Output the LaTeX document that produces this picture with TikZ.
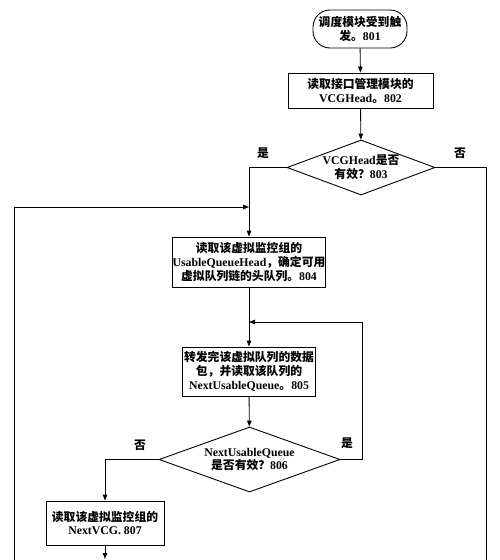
\documentclass[tikz,border=0pt]{standalone}
\usepackage{fontspec}
\setmainfont{Liberation Serif}
\newfontfamily\cjk{Noto Sans CJK SC}
\usetikzlibrary{shapes.geometric,arrows.meta}
\newcommand\zh[1]{{\cjk #1}}
\begin{document}
\begin{tikzpicture}[x=1pt,y=-1pt,
  every node/.style={font=\bfseries\fontsize{11.8}{13.8}\selectfont},
  proc/.style={draw, line width=0.9pt, rectangle, align=center, inner sep=0pt},
  term/.style={proc, rounded corners=17pt},
  dec/.style={draw, line width=0.9pt, diamond, inner sep=0pt, align=center},
  arr/.style={-{Triangle[length=6pt,width=4.5pt]}, line width=0.9pt},
  plain/.style={line width=0.9pt},
  lab/.style={inner sep=0pt}]
\useasboundingbox (0,0) rectangle (500,560);
\node[term, minimum width=94pt, minimum height=38pt] (s) at (360,29) {\zh{调度模块受到触}\\\zh{发。}801};
\node[proc, minimum width=145pt, minimum height=35pt] (n802) at (360.5,90.5) {\zh{读取接口管理模块的}\\VCGHead\zh{。}802};
\node[dec, aspect=2.7, minimum width=148pt, minimum height=55pt] (n803) at (361,167.5) {VCGHead\zh{是否}\\\zh{有效？}803};
\node[proc, minimum width=153pt, minimum height=50pt] (n804) at (249,262) {\zh{读取该虚拟监控组的}\\UsableQueueHead\zh{，确定可用}\\\zh{虚拟队列链的头队列。}804};
\node[proc, minimum width=133pt, minimum height=49pt] (n805) at (249,371.5) {\zh{转发完该虚拟队列的数据}\\\zh{包，并读取该队列的}\\NextUsableQueue\zh{。}805};
\node[dec, aspect=2.8, minimum width=181pt, minimum height=65pt] (n806) at (249.5,459.5) {NextUsableQueue\\\zh{是否有效？}806};
\node[proc, minimum width=118pt, minimum height=44pt] (n807) at (105,523) {\zh{读取该虚拟监控组的}\\NextVCG. 807};

\node[lab] (y1) at (263,153) {\zh{是}};
\node[lab] (no1) at (460,153) {\zh{否}};
\node[lab] (y2) at (347,443) {\zh{是}};
\node[lab] (no2) at (140,445) {\zh{否}};

\coordinate (L1) at (14,560);
\coordinate (L2) at (14,207);
\coordinate (R1) at (486,560);
\coordinate (Q) at (362,322);
\coordinate (B) at (105,559);

\draw[arr] (s) -- (n802);
\draw[arr] (n802) -- (n803);
\draw[arr] (n803.west) -| (n804.north);
\draw[plain] (n803.east) -| (R1);
\draw[arr] (L1) |- (n804.north |- L2);
\draw[arr] (n804) -- (n805);
\draw[arr] (n805) -- (n806);
\draw[arr] (n806.east) -| (Q) -- (n805.north |- Q);
\draw[arr] (n806.west) -| (n807.north);
\draw[arr] (n807.south) -- (B);
\end{tikzpicture}
\end{document}
